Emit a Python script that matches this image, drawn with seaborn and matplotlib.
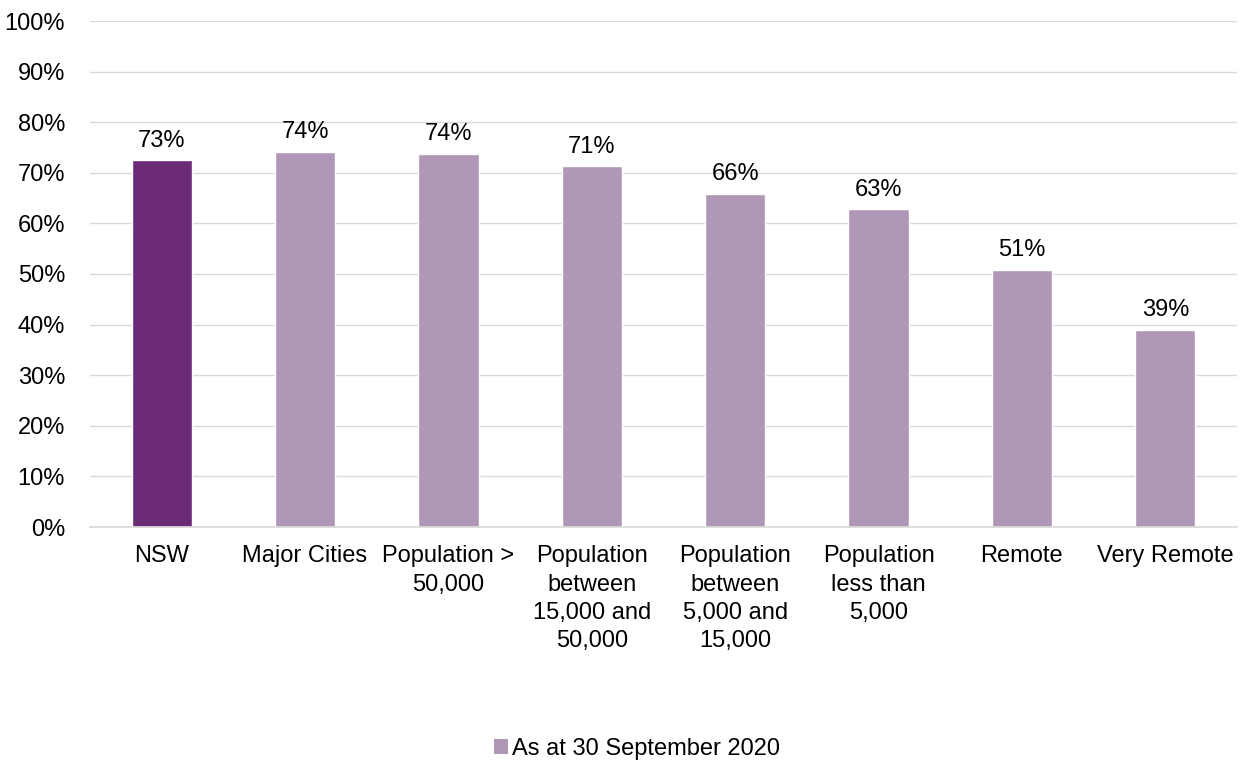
import matplotlib
matplotlib.use("Agg")
import matplotlib.pyplot as plt
import seaborn as sns
import pandas as pd
from matplotlib.patches import Patch

categories = ["NSW", "Major Cities", "Population >\n50,000", "Population\nbetween\n15,000 and\n50,000",
              "Population\nbetween\n5,000 and\n15,000", "Population\nless than\n5,000", "Remote", "Very Remote"]
values = [72.5, 74.2, 73.8, 71.3, 65.8, 62.8, 50.8, 39.0]
labels = ["73%", "74%", "74%", "71%", "66%", "63%", "51%", "39%"]
series_name = "As at 30 September 2020"

dark = "#6B2A76"
light = "#B197B7"

sns.set_theme(style="white")
plt.rcParams["font.family"] = ["Liberation Sans", "DejaVu Sans"]
plt.rcParams["text.color"] = "#000000"

FS = 17

df = pd.DataFrame({"cat": categories, "val": values})
fig = plt.figure(figsize=(12.47, 7.63), dpi=100)
ax = fig.add_axes([90/1247, 1 - 527/763, (1237-90)/1247, (527-21)/763])

palette = [dark] + [light] * (len(categories) - 1)
sns.barplot(data=df, x="cat", y="val", hue="cat", palette=palette, legend=False,
            width=0.42, ax=ax, saturation=1, zorder=3)

for i, (v, lab) in enumerate(zip(values, labels)):
    ax.text(i, v + 1.7, lab, ha="center", va="bottom", fontsize=FS, color="#000000")

ax.set_ylim(0, 100)
ax.set_yticks(range(0, 101, 10))
ax.set_yticklabels([f"{t}%" for t in range(0, 101, 10)], fontsize=FS, color="#000000")
ax.set_xlim(-0.5, len(categories) - 0.5)
ax.set_xticks(range(len(categories)))
ax.set_xticklabels(categories, fontsize=FS, color="#000000", linespacing=1.38)
ax.tick_params(axis="y", length=0, pad=18)
ax.tick_params(axis="x", length=0, pad=13)
ax.set_xlabel("")
ax.set_ylabel("")
ax.yaxis.grid(True, color="#D9D9D9", linewidth=1, zorder=0)
for s in ["top", "right", "left"]:
    ax.spines[s].set_visible(False)
ax.spines["bottom"].set_color("#D9D9D9")
ax.spines["bottom"].set_zorder(4)

handle = Patch(facecolor=light, edgecolor="none")
leg = fig.legend([handle], [series_name], loc="center", bbox_to_anchor=(637/1247, 1 - 749/763),
                 frameon=False, fontsize=FS, handlelength=0.6, handleheight=0.6, handletextpad=0.2)
for t in leg.get_texts():
    t.set_color("#000000")

fig.savefig("out.png", dpi=100)
